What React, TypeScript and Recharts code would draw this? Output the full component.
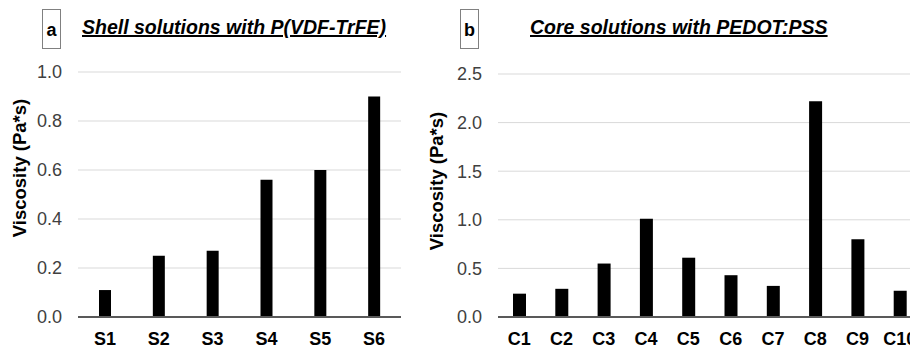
import { BarChart, Bar, XAxis, YAxis, CartesianGrid, Label } from "recharts";

// panel a: shell solutions
const shellSamples = ["S1", "S2", "S3", "S4", "S5", "S6"];
const shellViscosity = [0.11, 0.25, 0.27, 0.56, 0.6, 0.9];
const shellTicks = [0, 0.2, 0.4, 0.6, 0.8, 1.0];

// panel b: core solutions
const coreSamples = ["C1", "C2", "C3", "C4", "C5", "C6", "C7", "C8", "C9", "C10"];
const coreViscosity = [0.24, 0.29, 0.55, 1.01, 0.61, 0.43, 0.32, 2.22, 0.8, 0.27];
const coreTicks = [0, 0.5, 1.0, 1.5, 2.0, 2.5];

const FONT = '"Liberation Sans", Arial, sans-serif';

const shellData = shellSamples.map((name, i) => ({ name, value: shellViscosity[i] }));
const coreData = coreSamples.map((name, i) => ({ name, value: coreViscosity[i] }));

const yTick = { fontSize: 18, fill: "#404040", fontFamily: FONT };
const xTick = { fontSize: 18, fill: "#000", fontWeight: "bold", fontFamily: FONT };

const axisTitle = (x: number, y: number) => () => (
  <text
    x={x}
    y={y}
    transform={`rotate(-90 ${x} ${y})`}
    textAnchor="middle"
    dominantBaseline="central"
    fontSize={18.5}
    fontWeight="bold"
    fontFamily={FONT}
    fill="#000"
  >
    Viscosity (Pa*s)
  </text>
);

const PanelHeader = ({ letter, title, boxLeft, titleLeft }: { letter: string; title: string; boxLeft: number; titleLeft: number }) => (
  <>
    <div
      style={{
        position: "absolute",
        left: boxLeft,
        top: 9,
        width: 17,
        height: 36,
        border: "1px solid #808080",
        fontFamily: FONT,
        fontWeight: "bold",
        fontSize: 18,
        lineHeight: "36px",
        textAlign: "center",
        paddingTop: 2,
        boxSizing: "content-box",
      }}
    >
      {letter}
    </div>
    <div
      style={{
        position: "absolute",
        left: titleLeft,
        top: 16,
        fontFamily: FONT,
        fontWeight: "bold",
        fontStyle: "italic",
        fontSize: 19.5,
        textDecoration: "underline",
        textDecorationThickness: 2,
        lineHeight: "22px",
        whiteSpace: "nowrap",
      }}
    >
      {title}
    </div>
  </>
);

export default function App() {
  return (
    <div
      style={{
        position: "absolute",
        left: 0,
        top: 0,
        width: 910,
        height: 350,
        overflow: "hidden",
        background: "#fff",
      }}
    >
      <div style={{ position: "absolute", left: 0, top: 0 }}>
        <BarChart width={420} height={350} data={shellData} margin={{ top: 72, right: 19, bottom: 3, left: 18 }}>
          <CartesianGrid vertical={false} stroke="#d9d9d9" />
          <XAxis
            dataKey="name"
            height={30}
            tickLine={false}
            tickSize={6}
            tickMargin={9}
            axisLine={{ stroke: "#595959", strokeWidth: 2 }}
            tick={xTick}
          />
          <YAxis
            width={60}
            domain={[0, 1]}
            ticks={shellTicks}
            tickFormatter={(v: number) => v.toFixed(1)}
            axisLine={false}
            tickLine={false}
            tickSize={6}
            tickMargin={10}
            tick={yTick}
          >
            <Label content={axisTitle(19.5, 168)} />
          </YAxis>
          <Bar dataKey="value" fill="#000" barSize={12} isAnimationActive={false} />
        </BarChart>
      </div>

      <div style={{ position: "absolute", left: 420, top: 0 }}>
        <BarChart width={501} height={350} data={coreData} margin={{ top: 74, right: 0, bottom: 3, left: 18 }}>
          <CartesianGrid vertical={false} stroke="#d9d9d9" />
          <XAxis
            dataKey="name"
            height={30}
            tickLine={false}
            tickSize={6}
            tickMargin={9}
            axisLine={{ stroke: "#595959", strokeWidth: 2 }}
            tick={xTick}
            interval={0}
          />
          <YAxis
            width={60}
            domain={[0, 2.5]}
            ticks={coreTicks}
            tickFormatter={(v: number) => v.toFixed(1)}
            axisLine={false}
            tickLine={false}
            tickSize={6}
            tickMargin={10}
            tick={yTick}
          >
            <Label content={axisTitle(16, 181)} />
          </YAxis>
          <Bar dataKey="value" fill="#000" barSize={13} isAnimationActive={false} />
        </BarChart>
      </div>

      <PanelHeader letter="a" title="Shell solutions with P(VDF-TrFE)" boxLeft={42} titleLeft={82} />
      <PanelHeader letter="b" title="Core solutions with PEDOT:PSS" boxLeft={460} titleLeft={530} />
    </div>
  );
}
